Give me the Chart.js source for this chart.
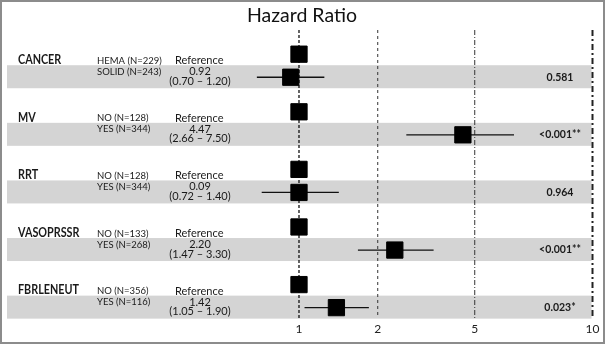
<!DOCTYPE html>
<html>
<head>
<meta charset="utf-8">
<title>Hazard Ratio</title>
<script src="https://cdn.jsdelivr.net/npm/chart.js@4.4.1/dist/chart.umd.min.js"></script>
<style>
    body { margin: 0; background: #fff; }
    canvas { display: block; }
</style>
</head>
<body>
<canvas id="myChart" width="605" height="345"></canvas>
<script>
// Table columns, one entry per variable
const groups = ['CANCER', 'MV', 'RRT', 'VASOPRSSR', 'FBRLENEUT'];
const refLabels = ['HEMA (N=229)', 'NO (N=128)', 'NO (N=128)', 'NO (N=133)', 'NO (N=356)'];
const compLabels = ['SOLID (N=243)', 'YES (N=344)', 'YES (N=344)', 'YES (N=268)', 'YES (N=116)'];
const hrText = ['0.92', '4.47', '0.09', '2.20', '1.42'];
const ciText = ['(0.70 \u2013 1.20)', '(2.66 \u2013 7.50)', '(0.72 \u2013 1.40)', '(1.47 \u2013 3.30)', '(1.05 \u2013 1.90)'];
const pValues = ['0.581', '<0.001**', '0.964', '<0.001**', '0.023*'];

// Where the marks sit on the axis
const refValue = [1, 1, 1, 1, 1];
const hrEst = [0.93, 4.47, 1.0, 2.35, 1.39];
const ciLow = [0.69, 2.62, 0.72, 1.68, 1.05];
const ciHigh = [1.25, 6.3, 1.42, 3.39, 1.85];

// Axis ticks
const xTicks = [1, 2, 5, 10];
const xTickLabels = ['1', '2', '5', '10'];

const chartTitle = 'Hazard Ratio';

// The axis in the figure is not an even log scale: each tick gets its own spot
const axisStops = [0.6, 1, 2, 5, 10];
const axisFrac = [0, 0.165, 0.389, 0.665, 1];
const rowGap = 0.4;

class StepLogScale extends Chart.LinearScale {
    static id = 'steplog';

    buildTicks() {
        return xTicks.map(v => ({ value: v }));
    }

    getPixelForValue(value) {
        let i = 0;
        while (i < axisStops.length - 2 && value > axisStops[i + 1]) i++;
        const a = Math.log(axisStops[i]);
        const b = Math.log(axisStops[i + 1]);
        const t = (Math.log(value) - a) / (b - a);
        return this.getPixelForDecimal(axisFrac[i] + t * (axisFrac[i + 1] - axisFrac[i]));
    }

    getValueForPixel(pixel) {
        const d = this.getDecimalForPixel(pixel);
        let i = 0;
        while (i < axisFrac.length - 2 && d > axisFrac[i + 1]) i++;
        const t = (d - axisFrac[i]) / (axisFrac[i + 1] - axisFrac[i]);
        const a = Math.log(axisStops[i]);
        const b = Math.log(axisStops[i + 1]);
        return Math.exp(a + t * (b - a));
    }
}
Chart.register(StepLogScale);

// Bands, dashed reference lines, title and the text table
const forestPlugin = {
    id: 'forest',
    beforeDatasetsDraw(chart) {
        const ctx = chart.ctx;
        const x = chart.scales.x;
        const y = chart.scales.y;
        const area = chart.chartArea;
        ctx.save();

        ctx.fillStyle = '#d4d4d4';
        groups.forEach((g, i) => {
            const c = y.getPixelForValue(i + rowGap);
            ctx.fillRect(7, c - 12, area.right - 8, 23);
        });

        const dashes = [[3, 2], [3, 3], [5, 2, 1, 2], [6, 3, 2, 3]];
        const widths = [1.3, 1, 1, 2];
        const colors = ['#111', '#333', '#333', '#222'];
        xTicks.forEach((v, i) => {
            const px = x.getPixelForValue(v);
            ctx.beginPath();
            ctx.setLineDash(dashes[i]);
            ctx.lineWidth = widths[i];
            ctx.strokeStyle = colors[i];
            ctx.moveTo(px, area.top);
            ctx.lineTo(px, area.bottom);
            ctx.stroke();
        });
        ctx.restore();
    },
    afterDatasetsDraw(chart) {
        const ctx = chart.ctx;
        const y = chart.scales.y;
        ctx.save();
        ctx.textBaseline = 'middle';

        // title, centred on the whole picture
        ctx.textAlign = 'center';
        ctx.font = '19.5px Lato';
        ctx.fillStyle = '#111';
        ctx.fillText(chartTitle, 302, 16);

        ctx.fillStyle = '#1a1a1a';
        groups.forEach((g, i) => {
            const r = y.getPixelForValue(i);
            const c = y.getPixelForValue(i + rowGap);

            // group names are set in a narrow bold face in the figure
            ctx.textAlign = 'left';
            ctx.font = 'bold 13.5px Lato';
            ctx.fillText(g, 18, r + 5.5, ctx.measureText(g).width * 0.8);

            ctx.font = '9.5px Lato';
            ctx.fillText(refLabels[i], 97, r + 6.5);
            ctx.fillText(compLabels[i], 97, c - 5.5);

            ctx.font = '11px Lato';
            ctx.fillText('Reference', 175, r + 6.5);
            ctx.textAlign = 'center';
            ctx.fillText(hrText[i], 200, c - 5.5);
            ctx.fillText(ciText[i], 200, c + 4);

            ctx.font = 'bold 10.5px Lato';
            ctx.fillText(pValues[i], 560, c);
        });

        ctx.restore();
    },
    afterDraw(chart) {
        const ctx = chart.ctx;
        ctx.save();
        ctx.strokeStyle = '#8c8c8c';
        ctx.lineWidth = 2;
        ctx.strokeRect(1, 1, 603, 342);
        ctx.restore();
    }
};

const squares = {
    data: groups.flatMap((g, i) => [
        { x: refValue[i], y: i },
        { x: hrEst[i], y: i + rowGap }
    ]),
    pointStyle: 'rect',
    pointRadius: 11.5,
    backgroundColor: '#000',
    borderColor: '#000',
    borderWidth: 1,
    order: 0
};

const whiskers = groups.map((g, i) => ({
    data: [
        { x: ciLow[i], y: i + rowGap },
        { x: ciHigh[i], y: i + rowGap }
    ],
    showLine: true,
    pointRadius: 0,
    borderColor: '#111',
    borderWidth: 1.3,
    order: 1
}));

const myChart = document.getElementById('myChart');

let forestChart = new Chart(myChart, {
    type: 'scatter',
    data: {
        datasets: [squares, ...whiskers]
    },
    options: {
        responsive: false,
        animation: false,
        events: [],
        layout: {
            padding: { left: 241, right: 12.5, top: 30, bottom: 4.6 }
        },
        plugins: {
            legend: { display: false },
            tooltip: { enabled: false },
            title: { display: false }
        },
        scales: {
            x: {
                type: 'steplog',
                min: 0.6,
                max: 10,
                grid: { display: false, drawTicks: false },
                border: { display: false },
                ticks: {
                    callback: (v, i) => xTickLabels[i],
                    font: { family: 'Lato', size: 12 },
                    color: '#222',
                    padding: 4,
                    maxRotation: 0,
                    autoSkip: false
                }
            },
            y: {
                type: 'linear',
                reverse: true,
                min: -0.42,
                max: 4.58,
                display: false
            }
        }
    },
    plugins: [forestPlugin]
});
</script>
</body>
</html>
